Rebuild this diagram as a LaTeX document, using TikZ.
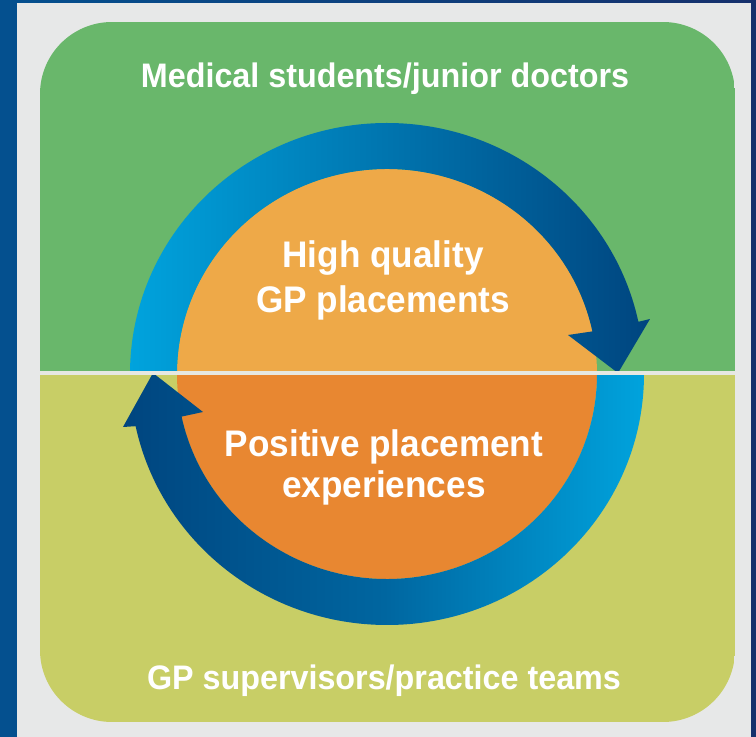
\documentclass[tikz,border=0pt]{standalone}
\usepackage{fontspec}
\setmainfont{Liberation Sans}[FakeStretch=0.95]
\definecolor{navyL}{HTML}{04508F}
\definecolor{navyR}{HTML}{16306C}
\definecolor{panel}{HTML}{E7E8E8}
\definecolor{grn}{HTML}{69B76B}
\definecolor{ylw}{HTML}{C8CE66}
\definecolor{orT}{HTML}{EEA948}
\definecolor{orB}{HTML}{E88731}
\definecolor{blL}{HTML}{00A3DD}
\definecolor{blD}{HTML}{00457F}
\definecolor{divc}{HTML}{E6E8E2}
\begin{document}
\begin{tikzpicture}[x=1pt,y=1pt,
  lbl/.style={text=white, font=\bfseries\fontsize{34}{40}\selectfont, anchor=base, inner sep=0pt},
  inlbl/.style={lbl, font=\bfseries\fontsize{37}{44}\selectfont}]
\useasboundingbox (0,0) rectangle (756,737);
\shade[left color=navyL, right color=navyR] (0,0) rectangle (756,737);
\fill[panel] (17,0) rectangle (751,734);
\begin{scope}
  \clip[rounded corners=72pt] (40,15) rectangle (735,715);
  \fill[grn] (40,364) rectangle (735,715);
  \fill[ylw] (40,15) rectangle (735,364);
\end{scope}
% orange disk
\fill[orT] (597,363) arc[start angle=0,end angle=180,x radius=210,y radius=205] -- cycle;
\fill[orB] (597,363) arc[start angle=0,end angle=-180,x radius=210,y radius=205] -- cycle;
% top arrow
\shade[left color=blL, right color=blD, middle color=blD!50!blL]
  (130,363) arc[start angle=180,end angle=12,x radius=257,y radius=251]
  -- (650,418) -- (618,364) -- (568,402) -- (592.4,405.6)
  arc[start angle=12,end angle=180,x radius=210,y radius=205] -- cycle;
% bottom arrow
\shade[left color=blD, right color=blL, middle color=blD!65!blL]
  (644,363) arc[start angle=0,end angle=-168,x radius=257,y radius=251]
  -- (123,310) -- (153,364) -- (203,325) -- (181.6,320.4)
  arc[start angle=-168,end angle=0,x radius=210,y radius=205] -- cycle;
% divider
\draw[divc, line width=4pt] (40,364) -- (735,364);
% labels
\node[lbl] (top) at (385,649) {Medical students/junior doctors};
\node[inlbl] (hq1) at (383,469) {High quality};
\node[inlbl] (hq2) at (383,424) {GP placements};
\node[inlbl] (pp1) at (384,280) {Positive placement};
\node[inlbl] (pp2) at (384,239) {experiences};
\node[lbl] (bot) at (384,47) {GP supervisors/practice teams};
\end{tikzpicture}
\end{document}
